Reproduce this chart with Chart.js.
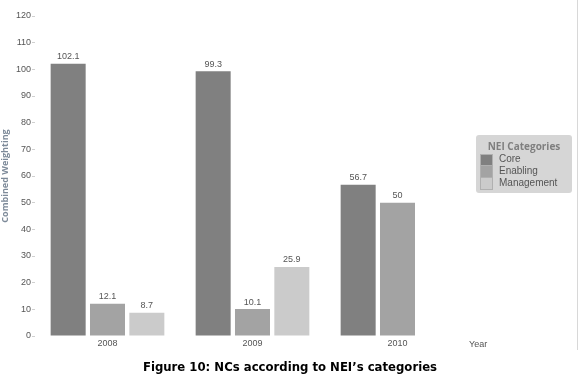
<!DOCTYPE html>
<html>
<head>
<meta charset="utf-8">
<script src="https://cdn.jsdelivr.net/npm/chart.js@4/dist/chart.umd.min.js"></script>
<style>
  html, body { margin: 0; padding: 0; background: #fff; }
  #wrap { position: relative; width: 580px; height: 376px; overflow: hidden; }
  #frame { position: absolute; left: 0; top: 0; width: 577px; height: 350px; border-right: 1px solid #d8d8d8; pointer-events: none; }
  #legend { position: absolute; left: 476px; top: 135px; width: 96px; height: 58px; background: #d6d6d6; border-radius: 3px; font-family: "Liberation Sans", Arial, sans-serif; }
  #legend .title { position: absolute; left: 0; width: 100%; top: 4px; text-align: center; font: bold 10px "Open Sans", sans-serif; color: #7f7f7f; }
  #legend .item { position: absolute; left: 4px; height: 12px; }
  #legend .sw { position: absolute; left: 0; top: 0; width: 11px; height: 11px; border: 1px solid #b0b0b0; border-width: 0 1px 1px 1px; }
  #legend .lab { position: absolute; left: 19px; top: -1px; font-size: 10px; color: #555; white-space: nowrap; }
  #year { position: absolute; left: 469px; top: 339px; font: 9px "Liberation Sans", Arial, sans-serif; color: #555; }
  #caption { position: absolute; left: 0; width: 580px; top: 360px; text-align: center; font: bold 11.7px "DejaVu Sans", sans-serif; color: #000; }
</style>
</head>
<body>
<div id="wrap">
  <canvas id="c" width="580" height="376"></canvas>
  <div id="frame"></div>
  <div id="legend"></div>
  <div id="year">Year</div>
  <div id="caption">Figure 10: NCs according to NEI’s categories</div>
</div>
<script>
const years = ["2008", "2009", "2010"];
const seriesNames = ["Core", "Enabling", "Management"];
const coreValues = [102.1, 99.3, 56.7];
const enablingValues = [12.1, 10.1, 50];
const managementValues = [8.7, 25.9, null];
const seriesColors = ["#808080", "#a3a3a3", "#cbcbcb"];
const yTicks = [0, 10, 20, 30, 40, 50, 60, 70, 80, 90, 100, 110, 120];

const valueSets = [coreValues, enablingValues, managementValues];
const datasets = seriesNames.map((name, i) => ({
  label: name,
  data: valueSets[i],
  backgroundColor: seriesColors[i],
  borderColor: "#777",
  borderWidth: 0,
  categoryPercentage: 0.814,
  barPercentage: 0.89
}));

// HTML legend
const legendEl = document.getElementById("legend");
legendEl.innerHTML = '<div class="title">NEI Categories</div>' +
  seriesNames.map((n, i) => '<div class="item" style="top:' + (19 + i * 12) + 'px"><div class="sw" style="background:' + seriesColors[i] + (i === 0 ? ';border-top-width:1px;height:10px' : '') + '"></div><div class="lab">' + n + '</div></div>').join("");

const valueLabels = {
  id: "valueLabels",
  afterDatasetsDraw(chart) {
    const ctx = chart.ctx;
    ctx.save();
    ctx.font = '9px "Liberation Sans", Arial, sans-serif';
    ctx.fillStyle = "#555";
    ctx.textAlign = "center";
    ctx.textBaseline = "middle";
    chart.data.datasets.forEach((ds, di) => {
      const meta = chart.getDatasetMeta(di);
      meta.data.forEach((bar, i) => {
        const v = ds.data[i];
        if (v === null || v === undefined) return;
        ctx.fillText(String(v), bar.x, bar.y - 7);
      });
    });
    ctx.restore();
  }
};

new Chart(document.getElementById("c"), {
  type: "bar",
  data: { labels: years, datasets },
  options: {
    responsive: false,
    animation: false,
    layout: { padding: { top: 16, right: 110, bottom: 20, left: 0 } },
    plugins: { legend: { display: false }, tooltip: { enabled: false } },
    scales: {
      x: {
        grid: { display: false, drawTicks: false },
        border: { display: false },
        ticks: { color: "#555", font: { family: "Liberation Sans", size: 9 }, padding: 2 },
        afterFit(scale) { scale.height = 20; }
      },
      y: {
        min: 0, max: 120,
        afterBuildTicks(scale) { scale.ticks = yTicks.map(v => ({ value: v })); },
        grid: { display: true, drawOnChartArea: false, drawTicks: true, tickLength: 3, color: "#d0d0d0" },
        border: { display: false },
        ticks: { color: "#555", font: { family: "Liberation Sans", size: 9 }, padding: 1 },
        title: {
          display: true,
          text: "Combined Weighting",
          color: "#7d8a99",
          font: { family: "Open Sans", size: 9, weight: "bold" },
          padding: 0
        },
        afterFit(scale) { scale.width = 35; }
      }
    }
  },
  plugins: [valueLabels]
});
</script>
</body>
</html>
